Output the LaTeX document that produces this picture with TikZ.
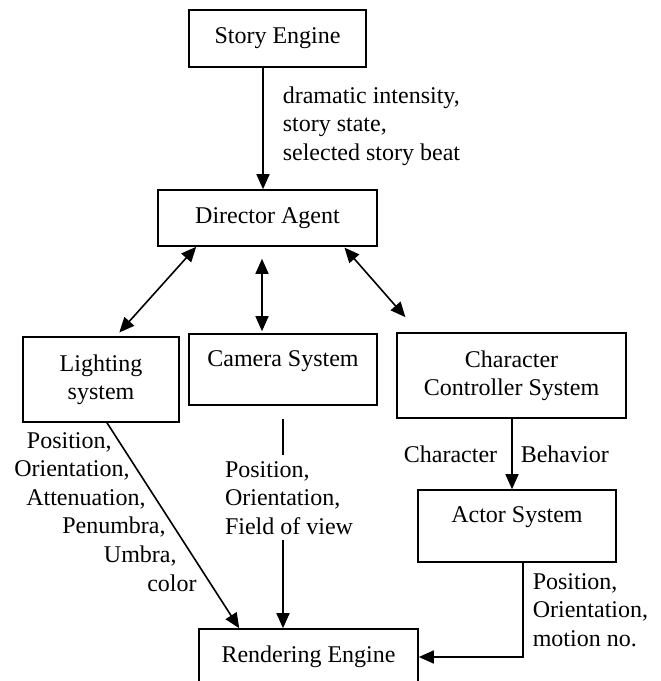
\documentclass[tikz,border=0pt,12pt]{standalone}
\usepackage{fontspec}
\setmainfont{Liberation Serif}
\usepackage{tikz}
\usetikzlibrary{
	arrows.meta,
	calc,
	positioning
}
\tikzset{
	Sys-Node/.style={rectangle,draw,line width=0.8pt,inner sep=0pt,align=center},
	Sys-Top/.style={text depth=11pt},
	Sys-Arrow/.style={-{Triangle[length=7.5pt,width=6.5pt]},line width=0.8pt},
	Sys-Both/.style={{Triangle[length=7.5pt,width=6.5pt]}-{Triangle[length=7.5pt,width=6.5pt]},line width=0.8pt},
	Sys-Label/.style={inner sep=0pt,align=left}
}

\begin{document}
\begin{tikzpicture}[x=0.5pt,y=-0.5pt,
	font=\fontsize{12pt}{14.2pt}\selectfont]
	\clip (0,0) rectangle (660,681);
	\node [Sys-Node,minimum width=88.5pt,minimum height=28.5pt] (story) at (277.5,38.5) {Story Engine};
	\node [Sys-Node,minimum width=109.5pt,minimum height=28pt] (director) at (267.5,218) {Director Agent};
	\node [Sys-Node,minimum width=78pt,minimum height=42.5pt] (light) at (101,379.5) {Lighting\\system};
	\node [Sys-Node,Sys-Top,minimum width=94pt,minimum height=35.5pt] (camera) at (283,369.5) {Camera System};
	\node [Sys-Node,minimum width=114.5pt,minimum height=42.5pt] (chara) at (511.5,375.5) {Character\\Controller System};
	\node [Sys-Node,Sys-Top,minimum width=99pt,minimum height=36pt] (actor) at (517,526) {Actor System};
	\node [Sys-Node,Sys-Top,minimum width=109.5pt,minimum height=36pt] (render) at (308.5,665) {Rendering Engine};
	% story engine feeds the director
	\draw [Sys-Arrow] ([xshift=-7.25pt]story.south) -- ([xshift=-2.25pt]director.north)
		node [Sys-Label,anchor=west,xshift=9.5pt,pos=0.48] {dramatic intensity,\\story state,\\selected story beat};
	% two-way links below the director
	\draw [Sys-Both,shorten >=2.5pt] ([xshift=19.5pt]director.south west) -- ([xshift=7.5pt]light.north);
	\draw [Sys-Both,shorten <=6pt,shorten >=1pt] ([xshift=-2.75pt]director.south) -- ([xshift=-10.5pt]camera.north);
	\draw [Sys-Both,shorten <=0.5pt,shorten >=10pt] ([xshift=-17pt]director.south east) -- ([xshift=11.2pt]chara.north west);
	% inputs of the renderer
	\draw [Sys-Arrow] ([xshift=3pt]light.south) -- ([xshift=20.5pt]render.north west);
	\foreach \txt/\xx/\yy in {{Position,}/112/442,{Orientation,}/130/470,{Attenuation,}/146/499,
		{Penumbra,}/166/527,{Umbra,}/177/556,{color}/197/583}
		\node [Sys-Label,anchor=east] at (\xx,\yy) {\txt};
	\draw [Sys-Arrow,shorten <=6.5pt] (camera.south) -- ([xshift=-12.75pt]render.north)
		node [Sys-Label,fill=white,inner sep=3pt,pos=0.414,xshift=3pt] {Position,\\Orientation,\\Field of view};
	\draw [Sys-Arrow] ([xshift=0.25pt]chara.south) -- ([xshift=-2.5pt]actor.north)
		node [left=7pt,inner sep=0pt,midway] {Character}
		node [right=4pt,inner sep=0pt,midway] {Behavior};
	\draw [Sys-Arrow] ([xshift=3pt]actor.south) |- ([yshift=4pt]render.east)
		node [Sys-Label,anchor=west,xshift=4.5pt,pos=0.25] {Position,\\Orientation,\\motion no.};
\end{tikzpicture}
\end{document}
